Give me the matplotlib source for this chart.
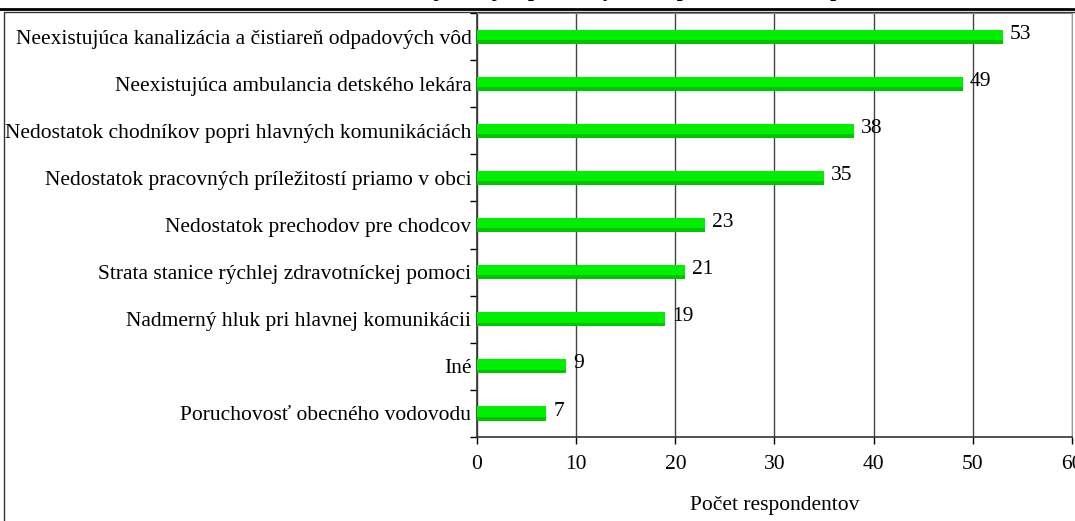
import matplotlib.pyplot as plt
from matplotlib.lines import Line2D
from matplotlib.patches import Rectangle
import numpy as np

plt.rcParams['font.family'] = ['Liberation Serif', 'DejaVu Serif']

# data (top to bottom as shown)
problems = [
    'Neexistujúca kanalizácia a čistiareň odpadových vôd',
    'Neexistujúca ambulancia detského lekára',
    'Nedostatok chodníkov popri hlavných komunikáciách',
    'Nedostatok pracovných príležitostí priamo v obci',
    'Nedostatok prechodov pre chodcov',
    'Strata stanice rýchlej zdravotníckej pomoci',
    'Nadmerný hluk pri hlavnej komunikácii',
    'Iné',
    'Poruchovosť obecného vodovodu',
]
counts = [53, 49, 38, 35, 23, 21, 19, 9, 7]
x_ticks = [0, 10, 20, 30, 40, 50, 60]

fs = 15.5

fig = plt.figure(figsize=(10.75, 5.21), dpi=100)
ax = fig.add_axes([0.4437, 0.1612, 0.5535, 0.8138])

y = np.arange(len(problems))[::-1]
ax.barh(y, counts, height=0.3, color='#00ee00', zorder=3)
# darker lower edge to mimic the shaded bars
ax.barh(y - 0.11, counts, height=0.08, color='#00c400', zorder=3)

for yi, c in zip(y, counts):
    ax.text(c + 0.7, yi + 0.05, str(c), va='center', ha='left', fontsize=fs, zorder=4)

ax.set_xlim(0, 60)
ax.set_ylim(-0.5, len(problems) - 0.5)
ax.set_xticks(x_ticks)
ax.set_xticklabels([str(t) for t in x_ticks], fontsize=fs)
ax.set_yticks(y)
ax.set_yticklabels(problems, fontsize=fs)
ax.tick_params(axis='y', which='major', length=0, pad=4)
ax.set_yticks(np.arange(len(problems) + 1) - 0.5, minor=True)
ax.tick_params(axis='y', which='minor', length=5, width=1)
ax.tick_params(axis='x', length=5, width=1, pad=8)

ax.grid(axis='x', color='#444444', linewidth=1, zorder=1)
ax.set_axisbelow(True)
for side in ['top', 'right']:
    ax.spines[side].set_color('#999999')
for side in ['left', 'bottom']:
    ax.spines[side].set_color('#333333')
    ax.spines[side].set_linewidth(1.2)

ax.set_xlabel('Počet respondentov', fontsize=fs, labelpad=16)

# outer chart frame and rule under clipped title
fig.add_artist(Line2D([0, 1], [0.982, 0.982], color='black', linewidth=2, transform=fig.transFigure))
fig.add_artist(Rectangle((0.004, -0.01), 1.0, 0.987, fill=False, edgecolor='#333333', linewidth=1,
                         transform=fig.transFigure))
fig.text(0.62, 1.018, 'Najvážnejšie problémy v obci podľa názoru respondentov', fontsize=15,
         fontweight='bold', ha='center', va='center')

fig.savefig('out.png', dpi=100)
